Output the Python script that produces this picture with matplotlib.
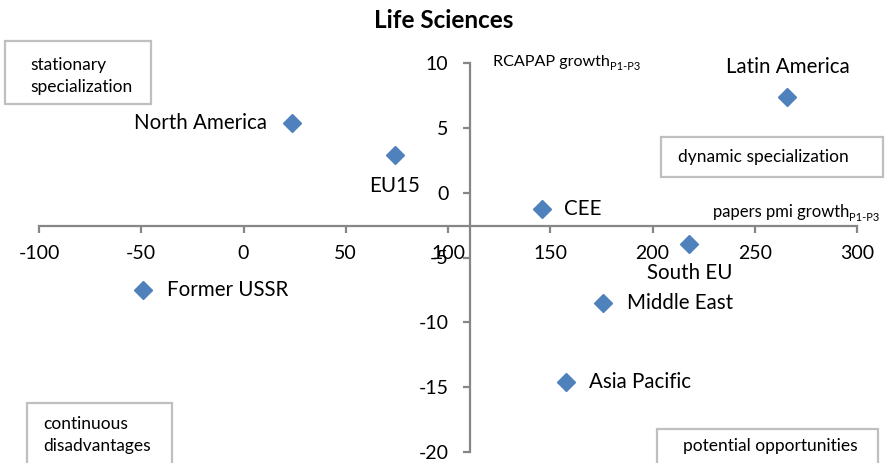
import matplotlib
matplotlib.use('Agg')
import matplotlib.pyplot as plt
from matplotlib.patches import Rectangle

plt.rcParams['font.family'] = ['Lato', 'DejaVu Sans']
plt.rcParams['axes.unicode_minus'] = False

regions = ['Latin America', 'North America', 'EU15', 'CEE', 'South EU',
           'Middle East', 'Asia Pacific', 'Former USSR']
papers_growth = [266, 23.5, 74, 146, 218, 176, 157.5, -49]
rcapap_growth = [7.4, 5.35, 2.9, -1.25, -3.95, -8.5, -14.6, -7.5]
# label offsets (points) and alignment per region
label_pos = {
    'Latin America': ((0, 14), 'center', 'bottom'),
    'North America': ((-18, 0), 'right', 'center'),
    'EU15': ((0, -15), 'center', 'top'),
    'CEE': ((16, 0), 'left', 'center'),
    'South EU': ((0, -14), 'center', 'top'),
    'Middle East': ((17, 0), 'left', 'center'),
    'Asia Pacific': ((17, 0), 'left', 'center'),
    'Former USSR': ((17, 0), 'left', 'center'),
}
xticks = [-100, -50, 0, 50, 100, 150, 200, 250, 300]
yticks = [10, 5, 0, -5, -10, -15, -20]

axis_gray = '#868686'
box_gray = '#bfbfbf'

fig = plt.figure(figsize=(8.88, 4.63), dpi=100)
ax = fig.add_axes([39 / 888, 11 / 463, 818 / 888, 389 / 463])
ax.set_xlim(-100, 300)
ax.set_ylim(-20, 10)
ax.spines['left'].set_position(('data', 111))
ax.spines['bottom'].set_position(('data', -2.55))
ax.spines['right'].set_color('none')
ax.spines['top'].set_color('none')
for s in ('left', 'bottom'):
    ax.spines[s].set_color(axis_gray)
    ax.spines[s].set_linewidth(1.6)
ax.set_xticks(xticks)
ax.set_yticks(yticks)
ax.tick_params(axis='both', direction='out', length=5, width=1.6,
               color=axis_gray, labelsize=14)
ax.tick_params(axis='y', pad=11)
ax.tick_params(axis='x', pad=9)
ax.patch.set_alpha(0)

ax.plot(papers_growth, rcapap_growth, 'D', color='#4f81bd', ms=9,
        linestyle='none', clip_on=False)
for name, x, y in zip(regions, papers_growth, rcapap_growth):
    off, ha, va = label_pos[name]
    ax.annotate(name, (x, y), xytext=off, textcoords='offset points',
                ha=ha, va=va, fontsize=14.8)

# axis titles with subscripts
t1 = fig.text(493 / 888, 1 - 62 / 463, 'RCAPAP growth', fontsize=11.6,
              ha='left', va='center')
ax.annotate('P1-P3', xy=(1, 0.15), xycoords=t1, fontsize=8,
            ha='left', va='center')
t2 = fig.text(713 / 888, 1 - 212 / 463, 'papers pmi growth', fontsize=12,
              ha='left', va='center')
ax.annotate('P1-P3', xy=(1, 0.15), xycoords=t2, fontsize=8,
            ha='left', va='center')

fig.text(0.5, 1 - 20 / 463, 'Life Sciences', fontsize=17.5, fontweight='bold',
         ha='center', va='center')

# quadrant boxes (figure pixels: x0, y0_top, x1, y1_bottom)
boxes = [
    ((5, 41, 151, 104), ['stationary', 'specialization'], 30),
    ((661, 137, 883, 177), ['dynamic specialization'], 678),
    ((27, 403, 172, 480), ['continuous', 'disadvantages'], 43),
    ((657, 429, 878, 500), ['potential opportunities'], 683),
]
line_y = {
    'stationary': 65, 'specialization': 87, 'dynamic specialization': 157,
    'continuous': 424, 'disadvantages': 446, 'potential opportunities': 446,
}
for (x0, y0, x1, y1), lines, tx in boxes:
    fig.patches.append(Rectangle((x0 / 888, 1 - y1 / 463), (x1 - x0) / 888,
                                 (y1 - y0) / 463, transform=fig.transFigure,
                                 fill=True, facecolor='white',
                                 edgecolor=box_gray, linewidth=1.6))
    for ln in lines:
        fig.text(tx / 888, 1 - line_y[ln] / 463, ln, fontsize=12.5,
                 ha='left', va='center')

fig.savefig('out.png', dpi=100)
